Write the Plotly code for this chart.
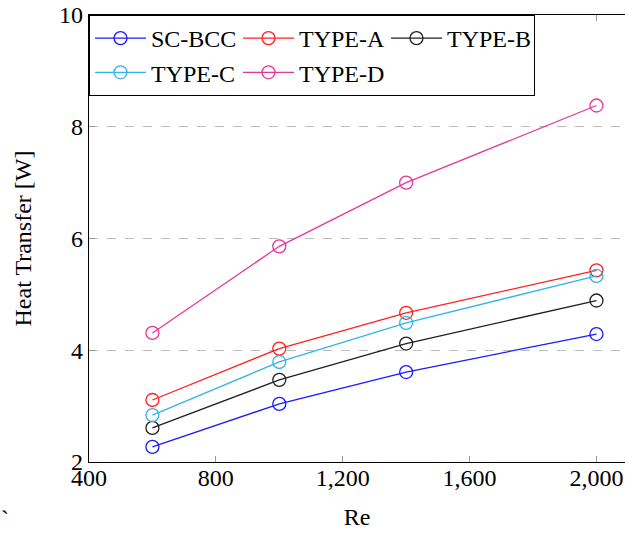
import plotly.graph_objects as go

re_vals = [600, 1000, 1400, 2000]
sc_bcc = [2.27, 3.04, 3.61, 4.29]
type_a = [3.11, 4.03, 4.67, 5.43]
type_b = [2.61, 3.47, 4.12, 4.89]
type_c = [2.84, 3.79, 4.49, 5.33]
type_d = [4.31, 5.86, 7.00, 8.38]

series_names = ["SC-BCC", "TYPE-A", "TYPE-B", "TYPE-C", "TYPE-D"]
series_vals = [sc_bcc, type_a, type_b, type_c, type_d]
series_colors = ["#1a1aff", "#ff2020", "#202020", "#33b4e6", "#e3379b"]

x_ticks = [400, 800, 1200, 1600, 2000]
x_tick_labels = ["400", "800", "1,200", "1,600", "2,000"]
y_ticks = [2, 4, 6, 8, 10]

FONT = "Liberation Serif"

fig = go.Figure()
for name, vals, col in zip(series_names, series_vals, series_colors):
    fig.add_trace(go.Scatter(
        x=re_vals, y=vals, name=name, mode="lines+markers",
        line=dict(color=col, width=1.3),
        marker=dict(symbol="circle-open", size=13, color=col, line=dict(width=1.3, color=col)),
    ))

fig.add_annotation(text="`", xref="paper", yref="paper", x=-0.168, y=-0.16,
                   showarrow=False, font=dict(family=FONT, size=24, color="black"))

fig.update_layout(
    width=625, height=533,
    margin=dict(l=89, r=0, t=15, b=71),
    paper_bgcolor="white", plot_bgcolor="white",
    font=dict(family=FONT, size=24, color="black"),
    showlegend=True,
    legend=dict(
        x=0, y=1, xanchor="left", yanchor="top", orientation="h",
        entrywidth=82, entrywidthmode="pixels",
        bordercolor="black", borderwidth=1, bgcolor="white",
        font=dict(family=FONT, size=24, color="black"),
        itemwidth=51, tracegroupgap=0,
    ),
    xaxis=dict(
        range=[400, 2090], tickmode="array", tickvals=x_ticks, ticktext=x_tick_labels,
        showgrid=False, zeroline=False,
        showline=True, linecolor="black", linewidth=1.3, mirror="ticks",
        ticks="inside", ticklen=6, tickcolor="#999999", tickwidth=1,
        ticklabelstandoff=-6,
        title=dict(text="Re", font=dict(family=FONT, size=24), standoff=18),
        tickfont=dict(family=FONT, size=24),
    ),
    yaxis=dict(
        range=[2, 10], tickmode="array", tickvals=y_ticks,
        showgrid=True, gridcolor="#bbbbbb", griddash="dash", gridwidth=1.3,
        zeroline=False,
        showline=True, linecolor="black", linewidth=1.3, mirror=False,
        ticks="inside", ticklen=6, tickcolor="#999999", tickwidth=1,
        title=dict(text="Heat Transfer [W]", font=dict(family=FONT, size=24), standoff=20),
        tickfont=dict(family=FONT, size=24),
    ),
)

fig.write_html("out.html")
